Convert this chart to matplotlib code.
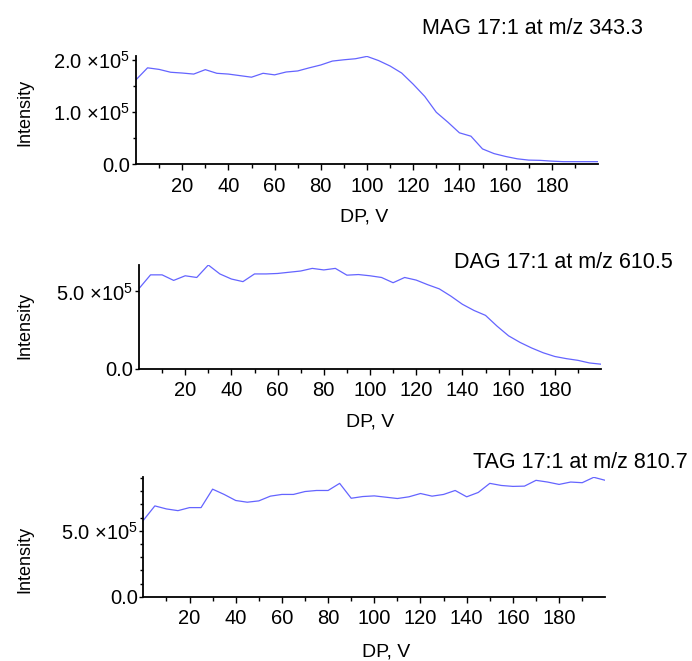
import numpy as np
import matplotlib
matplotlib.use("Agg")
import matplotlib.pyplot as plt
from matplotlib.ticker import FixedLocator, FuncFormatter

plt.rcParams['font.family'] = ['Liberation Sans', 'DejaVu Sans']
plt.rcParams['mathtext.fontset'] = 'custom'
plt.rcParams['mathtext.rm'] = 'Liberation Sans'
plt.rcParams['mathtext.it'] = 'Liberation Sans'

# declustering potential, V
dp = np.arange(0, 201, 5)

mag = [1.62, 1.85, 1.82, 1.765, 1.75, 1.73, 1.815, 1.745, 1.73, 1.70,
       1.67, 1.745, 1.715, 1.77, 1.79, 1.85, 1.905, 1.98, 2.005, 2.025,
       2.07, 1.99, 1.885, 1.75, 1.535, 1.30, 0.995, 0.805, 0.60, 0.535,
       0.29, 0.20, 0.145, 0.10, 0.075, 0.07, 0.055, 0.045, 0.045, 0.045,
       0.045]
dag = [5.19, 6.08, 6.08, 5.72, 6.02, 5.91, 6.72, 6.14, 5.81, 5.64,
       6.14, 6.14, 6.17, 6.25, 6.33, 6.50, 6.40, 6.50, 6.06, 6.10,
       6.02, 5.91, 5.57, 5.91, 5.74, 5.44, 5.17, 4.70, 4.17, 3.77,
       3.45, 2.75, 2.12, 1.69, 1.33, 1.02, 0.78, 0.64, 0.53, 0.36,
       0.28]
tag = [5.79, 6.89, 6.66, 6.53, 6.76, 6.76, 8.16, 7.76, 7.30, 7.17,
       7.27, 7.63, 7.76, 7.76, 7.98, 8.06, 8.06, 8.60, 7.47, 7.60,
       7.65, 7.55, 7.45, 7.58, 7.83, 7.63, 7.76, 8.06, 7.58, 7.91,
       8.60, 8.44, 8.37, 8.39, 8.83, 8.70, 8.52, 8.70, 8.65, 9.06,
       8.83]

titles = ["MAG 17:1 at m/z 343.3", "DAG 17:1 at m/z 610.5", "TAG 17:1 at m/z 810.7"]
series = [np.array(mag) * 1e5, np.array(dag) * 1e5, np.array(tag) * 1e5]
major_y = [[0, 1e5, 2e5], [0, 5e5], [0, 5e5]]
minor_y = [[0.5e5, 1.5e5], [], [1e5, 2e5, 3e5, 4e5, 6e5, 7e5, 8e5, 9e5]]

# layout (pixels in the 692x661 picture)
W, H = 692, 661
boxes = [(136, 56.4, 164), (139, 265, 368.5), (143.3, 477.3, 596.7)]  # left, top, bottom
title_pos = [(643, 28), (673, 263), (688, 463)]
ylab_pos = [(25, 112), (25, 325), (25, 559)]
xlab_pos = [(364, 217), (370, 422), (386, 652)]


def fmt(v, pos):
    if v == 0:
        return "0.0"
    e = int(np.floor(np.log10(v)))
    return "%.1f \u00d710$^{%d}$" % (v / 10**e, e)


fig = plt.figure(figsize=(W / 100, H / 100), dpi=100)

for i in range(3):
    left, top, bottom = boxes[i]
    ax = fig.add_axes([left / W, 1 - bottom / H, 462 / W, (bottom - top) / H])
    y = series[i]
    ax.plot(dp, y, color='#6464ff', lw=0.9)
    ax.set_xlim(0, 200)
    ax.set_ylim(0, y.max())
    for s in ['top', 'right']:
        ax.spines[s].set_visible(False)
    for s in ['left', 'bottom']:
        ax.spines[s].set_linewidth(1.3)
    ax.xaxis.set_major_locator(FixedLocator(np.arange(20, 181, 20)))
    ax.xaxis.set_minor_locator(FixedLocator(np.arange(10, 200, 20)))
    ax.yaxis.set_major_locator(FixedLocator(major_y[i]))
    ax.yaxis.set_minor_locator(FixedLocator(minor_y[i]))
    ax.yaxis.set_major_formatter(FuncFormatter(fmt))
    ax.tick_params(axis='x', which='major', length=4, width=1, labelsize=14.5, pad=5)
    ax.tick_params(axis='x', which='minor', length=3, width=1)
    ax.tick_params(axis='y', which='major', length=3, width=1, labelsize=14.5, pad=1)
    ax.tick_params(axis='y', which='minor', length=2.5, width=1)

    tx, ty = title_pos[i]
    fig.text(tx / W, 1 - ty / H, titles[i], ha='right', va='center', fontsize=15.5)
    lx, ly = ylab_pos[i]
    fig.text(lx / W, 1 - ly / H, "Intensity", rotation=90, ha='center', va='center', fontsize=13)
    xx, xy = xlab_pos[i]
    fig.text(xx / W, 1 - xy / H, "DP, V", ha='center', va='center', fontsize=14)

fig.savefig("out.png", dpi=100)
